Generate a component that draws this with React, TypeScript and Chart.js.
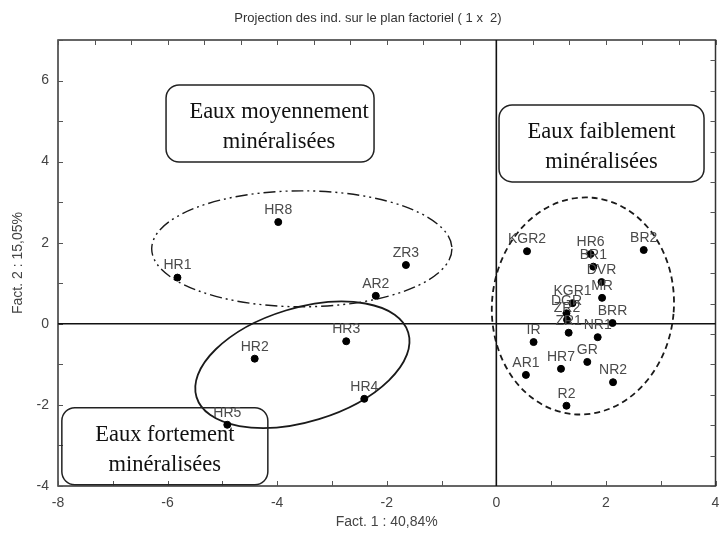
import { useEffect, useRef } from "react";
import { Chart, registerables } from "chart.js";

Chart.register(...registerables);

// Individuals projected on the first factorial plane
const names = [
  "HR1", "HR8", "ZR3", "AR2", "HR3", "HR2", "HR4", "HR5",
  "KGR2", "BR2", "HR6", "BR1", "DVR", "MR", "KGR1", "DGR", "ZR2", "ZR1",
  "BRR", "NR1", "IR", "AR1", "HR7", "GR", "NR2", "R2",
];
const fact1 = [
  -5.82, -3.98, -1.65, -2.2, -2.74, -4.41, -2.41, -4.91,
  0.56, 2.69, 1.72, 1.77, 1.92, 1.93, 1.39, 1.28, 1.29, 1.32,
  2.12, 1.85, 0.68, 0.54, 1.18, 1.66, 2.13, 1.28,
];
const fact2 = [
  1.14, 2.51, 1.45, 0.69, -0.43, -0.86, -1.85, -2.49,
  1.79, 1.82, 1.72, 1.41, 1.03, 0.64, 0.51, 0.26, 0.1, -0.22,
  0.02, -0.33, -0.45, -1.26, -1.11, -0.94, -1.44, -2.02,
];

const xRange = [-8, 4];
const yRange = [-4, 7];

const titleText = "Projection des ind. sur le plan factoriel ( 1 x  2)";
const xTitle = "Fact. 1 : 40,84%";
const yTitle = "Fact. 2 : 15,05%";

// Group outlines: centre in factor units, radii in axis units, rotation in degrees
const groupOutlines = [
  { cx: -3.55, cy: 1.85, rx: 2.74, ry: 1.43, rot: 0, dash: [12, 4, 2, 4, 2, 4], width: 1.4 },
  { cx: -3.54, cy: -1.01, rx: 2.02, ry: 1.4, rot: -17, dash: [], width: 1.8 },
  { cx: 1.58, cy: 0.44, rx: 1.66, ry: 2.68, rot: 5, dash: [6, 4], width: 1.8 },
];

// Group captions placed in factor units (text offset dx in pixels)
const groupCaptions = [
  { cx: -4.13, cy: 4.94, w: 208, h: 77, dx: 9, lines: ["Eaux moyennement", "minéralisées"] },
  { cx: 1.92, cy: 4.45, w: 205, h: 77, dx: 0, lines: ["Eaux faiblement", "minéralisées"] },
  { cx: -6.05, cy: -3.02, w: 206, h: 77, dx: 0, lines: ["Eaux fortement", "minéralisées"] },
];

const SANS = "'Liberation Sans', Arial, sans-serif";
const NARROW = "'Liberation Sans Narrow', 'Liberation Sans', Arial, sans-serif";
const SERIF = "'Liberation Serif', 'Times New Roman', serif";

function roundRect(ctx: CanvasRenderingContext2D, x: number, y: number, w: number, h: number, r: number) {
  ctx.beginPath();
  ctx.moveTo(x + r, y);
  ctx.lineTo(x + w - r, y);
  ctx.arcTo(x + w, y, x + w, y + r, r);
  ctx.lineTo(x + w, y + h - r);
  ctx.arcTo(x + w, y + h, x + w - r, y + h, r);
  ctx.lineTo(x + r, y + h);
  ctx.arcTo(x, y + h, x, y + h - r, r);
  ctx.lineTo(x, y + r);
  ctx.arcTo(x, y, x + r, y, r);
  ctx.closePath();
}

const planDecor = {
  id: "planDecor",
  beforeDatasetsDraw(chart: any) {
    const { ctx, chartArea: a, scales } = chart;
    const x = scales.x;
    const y = scales.y;
    ctx.save();

    // title, centred slightly right of the page middle
    ctx.fillStyle = "#333";
    ctx.font = `13px ${NARROW}`;
    ctx.textAlign = "center";
    ctx.textBaseline = "middle";
    ctx.fillText(titleText, 368, 18);

    // frame
    ctx.strokeStyle = "#333";
    ctx.lineWidth = 1.5;
    ctx.strokeRect(a.left, a.top, a.right - a.left, a.bottom - a.top);

    // inward tick marks
    ctx.strokeStyle = "#555";
    ctx.lineWidth = 1;
    ctx.beginPath();
    for (const t of x.ticks) {
      const px = Math.round(x.getPixelForValue(t.value)) + 0.5;
      ctx.moveTo(px, a.bottom);
      ctx.lineTo(px, a.bottom - 5);
    }
    for (const t of y.ticks) {
      const py = Math.round(y.getPixelForValue(t.value)) + 0.5;
      ctx.moveTo(a.left, py);
      ctx.lineTo(a.left + 5, py);
    }
    for (let k = 0; k <= 18; k++) {
      const px = Math.round(x.getPixelForValue(xRange[0] + (k * 2) / 3)) + 0.5;
      ctx.moveTo(px, a.top);
      ctx.lineTo(px, a.top + 5);
    }
    for (let k = 0; k <= 14; k++) {
      const py = Math.round(y.getPixelForValue(yRange[0] + k * 0.75)) + 0.5;
      ctx.moveTo(a.right, py);
      ctx.lineTo(a.right - 5, py);
    }
    ctx.stroke();

    // origin lines
    ctx.strokeStyle = "#111";
    ctx.lineWidth = 1.6;
    ctx.beginPath();
    const x0 = x.getPixelForValue(0);
    const y0 = y.getPixelForValue(0);
    ctx.moveTo(x0, a.top);
    ctx.lineTo(x0, a.bottom);
    ctx.moveTo(a.left, y0);
    ctx.lineTo(a.right, y0);
    ctx.stroke();

    // group outlines
    const ux = Math.abs(x.getPixelForValue(1) - x.getPixelForValue(0));
    const uy = Math.abs(y.getPixelForValue(1) - y.getPixelForValue(0));
    ctx.strokeStyle = "#1a1a1a";
    for (const e of groupOutlines) {
      ctx.lineWidth = e.width;
      ctx.setLineDash(e.dash);
      ctx.beginPath();
      ctx.ellipse(
        x.getPixelForValue(e.cx),
        y.getPixelForValue(e.cy),
        e.rx * ux,
        e.ry * uy,
        (e.rot * Math.PI) / 180,
        0,
        Math.PI * 2
      );
      ctx.stroke();
    }
    ctx.setLineDash([]);

    // group captions
    ctx.lineWidth = 1.5;
    ctx.strokeStyle = "#222";
    ctx.fillStyle = "#111";
    ctx.font = `22.5px ${SERIF}`;
    ctx.textAlign = "center";
    ctx.textBaseline = "middle";
    for (const c of groupCaptions) {
      const cx = x.getPixelForValue(c.cx);
      const cy = y.getPixelForValue(c.cy);
      roundRect(ctx, cx - c.w / 2, cy - c.h / 2, c.w, c.h, 13);
      ctx.stroke();
      ctx.fillText(c.lines[0], cx + c.dx, cy - 11);
      ctx.fillText(c.lines[1], cx + c.dx, cy + 19);
    }
    ctx.restore();
  },
  afterDatasetsDraw(chart: any) {
    const { ctx } = chart;
    const meta = chart.getDatasetMeta(0);
    ctx.save();
    ctx.font = `14px ${SANS}`;
    ctx.fillStyle = "#4a4a4a";
    ctx.textAlign = "center";
    ctx.textBaseline = "middle";
    meta.data.forEach((el: any, i: number) => {
      ctx.fillText(names[i], el.x, el.y - 12);
    });
    ctx.restore();
  },
};

export default function App() {
  const ref = useRef<HTMLCanvasElement | null>(null);

  useEffect(() => {
    if (!ref.current) return;
    const points = names.map((_, i) => ({ x: fact1[i], y: fact2[i] }));
    const chart = new Chart(ref.current, {
      type: "scatter",
      data: {
        datasets: [
          {
            data: points,
            backgroundColor: "#000",
            borderColor: "#000",
            pointRadius: 3.5,
            pointHoverRadius: 3.5,
          },
        ],
      },
      options: {
        responsive: false,
        animation: false,
        events: [],
        layout: { padding: { left: 0, right: 1, top: 40, bottom: 0 } },
        plugins: {
          legend: { display: false },
          tooltip: { enabled: false },
          title: { display: false },
        },
        scales: {
          x: {
            type: "linear",
            min: xRange[0],
            max: xRange[1],
            position: "bottom",
            grid: { display: false, drawTicks: false },
            border: { display: false },
            ticks: {
              stepSize: 1,
              autoSkip: false,
              maxRotation: 0,
              padding: 9,
              color: "#444",
              font: { family: NARROW, size: 14 },
              callback: (v: any) => (Number(v) % 2 === 0 ? String(v) : ""),
            },
            title: {
              display: true,
              text: xTitle,
              color: "#444",
              font: { family: NARROW, size: 14 },
              padding: { top: 0, bottom: 9 },
            },
            afterFit: (s: any) => {
              s.height = 54;
              s.paddingLeft = 0;
              s.paddingRight = 0;
            },
          },
          y: {
            type: "linear",
            min: yRange[0],
            max: yRange[1],
            grid: { display: false, drawTicks: false },
            border: { display: false },
            ticks: {
              stepSize: 1,
              autoSkip: false,
              padding: 9,
              color: "#444",
              font: { family: NARROW, size: 14 },
              callback: (v: any) => (Number(v) % 2 === 0 ? String(v) : ""),
            },
            title: {
              display: true,
              text: yTitle,
              color: "#444",
              font: { family: NARROW, size: 14 },
              padding: { top: 10, bottom: 0 },
            },
            afterFit: (s: any) => {
              s.width = 58;
              s.paddingTop = 0;
              s.paddingBottom = 0;
            },
          },
        },
      },
      plugins: [planDecor],
    });
    return () => chart.destroy();
  }, []);

  return (
    <div style={{ position: "absolute", left: 0, top: 0, width: 720, height: 540, background: "#fff" }}>
      <canvas ref={ref} width={720} height={540} style={{ display: "block" }} />
    </div>
  );
}
